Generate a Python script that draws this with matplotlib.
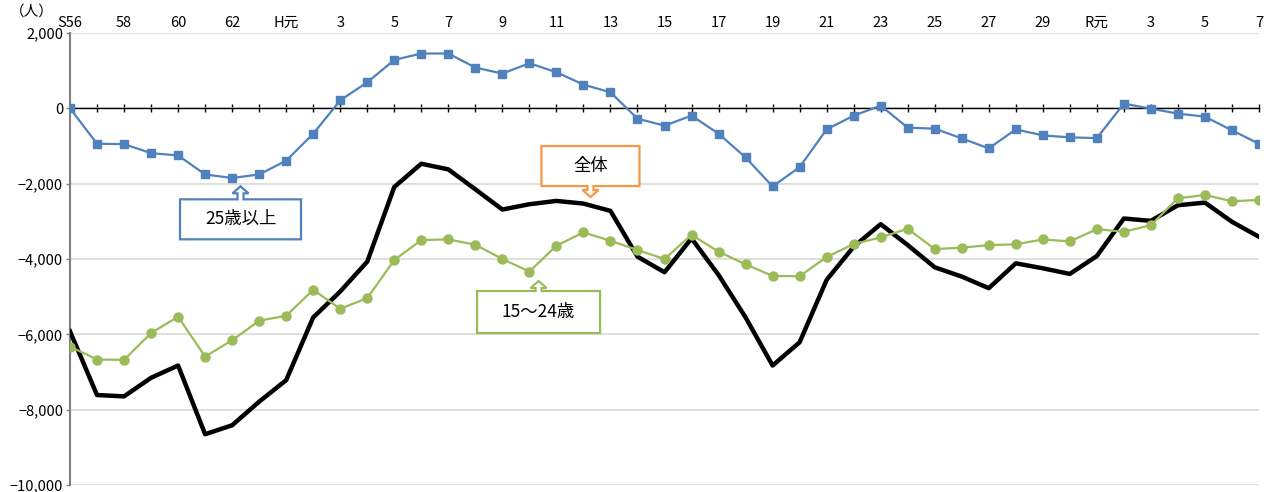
import matplotlib
matplotlib.use('Agg')
import matplotlib.pyplot as plt
from matplotlib.patches import Polygon
from matplotlib.ticker import FuncFormatter

plt.rcParams['font.family'] = ['Noto Sans CJK JP', 'DejaVu Sans']

# 年次ラベル (S56 = 1981 ～ R7 = 2025)
year_labels = ['S56', '58', '60', '62', 'H元', '3', '5', '7', '9', '11', '13', '15',
               '17', '19', '21', '23', '25', '27', '29', 'R元', '3', '5', '7']

# 25歳以上
over25 = [0, -940, -950, -1190, -1250, -1755, -1850, -1755, -1390, -675,
          213, 690, 1285, 1455, 1455, 1082, 923, 1197, 958, 630,
          426, -274, -460, -194, -673, -1303, -2075, -1561, -559, -194,
          71, -513, -540, -798, -1064, -559, -718, -771, -790, 125,
          -9, -141, -221, -585, -940]

# 全体
total = [-5920, -7612, -7647, -7154, -6828, -8652, -8414, -7788, -7216, -5550,
         -4863, -4070, -2088, -1471, -1621, -2150, -2687, -2546, -2458, -2529,
         -2722, -3938, -4352, -3454, -4423, -5550, -6828, -6211, -4555, -3674,
         -3075, -3630, -4220, -4467, -4775, -4114, -4247, -4396, -3921, -2925,
         -2987, -2573, -2502, -3013, -3410]

# 15～24歳
age15_24 = [-6326, -6669, -6678, -5965, -5533, -6590, -6158, -5639, -5506, -4819,
            -5321, -5039, -4026, -3498, -3480, -3621, -4000, -4335, -3647, -3295,
            -3515, -3762, -4000, -3357, -3806, -4141, -4449, -4458, -3947, -3603,
            -3427, -3198, -3736, -3700, -3630, -3612, -3480, -3533, -3207, -3277,
            -3101, -2388, -2300, -2467, -2432]

BLUE = '#4F81BD'
GREEN = '#9BBB59'
ORANGE = '#F79646'

W, H = 1272, 492
fig = plt.figure(figsize=(W / 100, H / 100), dpi=100)
left, right, top, bottom = 70, 1259, 33, 485
ax = fig.add_axes([left / W, 1 - bottom / H, (right - left) / W, (bottom - top) / H])

x = list(range(len(total)))
ax.set_xlim(0, len(total) - 1)
ax.set_ylim(-10000, 2000)

# grid
ax.set_yticks(range(-10000, 2001, 2000))
ax.yaxis.grid(True, color='#D9D9D9', lw=1.2)
ax.set_axisbelow(True)

# lines
ax.plot(x, total, color='black', lw=3.2, zorder=3)
ax.plot(x, age15_24, color=GREEN, lw=1.6, marker='o', ms=6.5, zorder=4)
ax.plot(x, over25, color=BLUE, lw=1.6, marker='s', ms=5.5, zorder=4)

# axes styling
for s in ['top', 'right']:
    ax.spines[s].set_visible(False)
ax.spines['left'].set_color('#808080')
ax.spines['left'].set_linewidth(1.5)
ax.spines['bottom'].set_position(('data', 0))
ax.spines['bottom'].set_color('black')
ax.spines['bottom'].set_linewidth(1.0)

ax.set_xticks(x)
ax.tick_params(axis='x', direction='inout', length=6, width=1, color='black',
               labelbottom=False)
ax.tick_params(axis='y', direction='out', length=3, width=1, color='#808080',
               labelsize=10.5, pad=2)
ax.yaxis.set_major_formatter(FuncFormatter(lambda v, p: f'{v:,.0f}'.replace('-', '−')))

# year labels on top
sec = ax.secondary_xaxis('top')
sec.set_xticks(range(0, len(total), 2))
sec.set_xticklabels(year_labels)
sec.tick_params(length=0, labelsize=10.5, pad=2)
sec.spines['top'].set_visible(False)

fig.text(10 / W, 1 - 12 / H, '（人）', fontsize=10.5, va='center', ha='left')

# callouts
px_x = (len(total) - 1) / (right - left)
px_y = 12000 / (bottom - top)


def callout(tip_x, tip_y, up, box_w, box_h, gap, color, text):
    head_h, head_w, stem_w = 7, 16, 6
    sgn = -1 if up else 1
    pts = [
        (0, 0),
        (head_w / 2, head_h),
        (stem_w / 2, head_h),
        (stem_w / 2, gap),
        (box_w / 2, gap),
        (box_w / 2, gap + box_h),
        (-box_w / 2, gap + box_h),
        (-box_w / 2, gap),
        (-stem_w / 2, gap),
        (-stem_w / 2, head_h),
        (-head_w / 2, head_h),
    ]
    verts = [(tip_x + dx * px_x, tip_y + sgn * dy * px_y) for dx, dy in pts]
    ax.add_patch(Polygon(verts, closed=True, facecolor='white', edgecolor=color,
                         lw=1.6, zorder=6, joinstyle='miter'))
    ty = tip_y + sgn * (gap + box_h / 2) * px_y
    ax.text(tip_x, ty, text, ha='center', va='center', fontsize=12.5, zorder=7)


callout(6.31, -2071, True, 121, 40, 13, BLUE, '25歳以上')
callout(19.26, -2355, False, 98, 40, 11, ORANGE, '全体')
callout(17.34, -4585, True, 123, 42, 10, GREEN, '15～24歳')

fig.savefig('out.png', dpi=100)
